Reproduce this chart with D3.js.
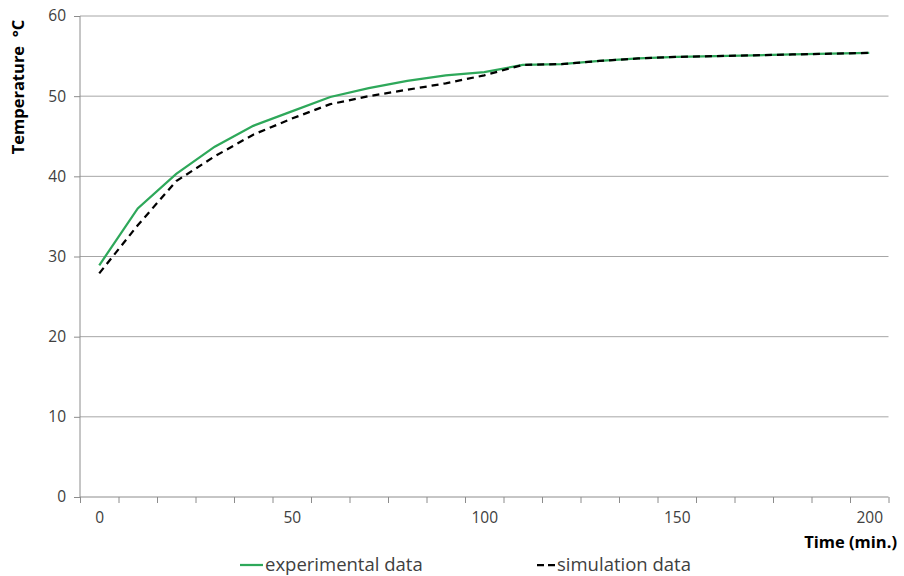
<!DOCTYPE html>
<html>
<head>
<meta charset="utf-8">
<script src="https://cdn.jsdelivr.net/npm/d3@7"></script>
<style>
  body { margin: 0; background: #fff; }
  text { font-family: "Open Sans", "DejaVu Sans", sans-serif; fill: #404040; }
  .axis path, .axis line { stroke: #8c8c8c; }
  .grid line { stroke: #a6a6a6; }
</style>
</head>
<body>
<svg id="chart"></svg>
<script>
// time in minutes (one category every 10 min)
var times = [0, 10, 20, 30, 40, 50, 60, 70, 80, 90, 100,
             110, 120, 130, 140, 150, 160, 170, 180, 190, 200];
var experimental = [28.9, 36.0, 40.3, 43.7, 46.3, 48.1, 49.9, 51.0, 51.9, 52.6, 53.0,
                    53.9, 54.0, 54.4, 54.7, 54.9, 55.0, 55.1, 55.2, 55.3, 55.4];
var simulation = [27.9, 33.9, 39.4, 42.5, 45.2, 47.2, 49.0, 50.0, 50.8, 51.6, 52.6,
                  53.9, 54.0, 54.4, 54.7, 54.9, 55.0, 55.1, 55.2, 55.3, 55.4];
var xLabels = [0, 50, 100, 150, 200];
var yTicks = [0, 10, 20, 30, 40, 50, 60];

var W = 904, H = 576;
var margin = {left: 80, top: 16, right: 15, bottom: 79};
var width = 888.5 - margin.left;
var height = 497 - margin.top;

var svg = d3.select("#chart").attr("width", W).attr("height", H);
var chart = svg.append("g")
    .attr("transform", "translate(" + margin.left + "," + margin.top + ")");

// category axis: each point sits in the middle of a 10-min slot
var x = d3.scaleLinear().domain([-5, 205]).range([0, width]);
var y = d3.scaleLinear().domain([0, 60]).range([height, 0]);

// horizontal gridlines
chart.append("g")
    .attr("class", "grid")
    .selectAll("line")
    .data(yTicks.filter(function (d) { return d > 0; }))
    .enter()
    .append("line")
    .attr("x1", 0)
    .attr("x2", width)
    .attr("y1", function (d) { return y(d); })
    .attr("y2", function (d) { return y(d); });

// y axis
var yAxis = chart.append("g")
    .attr("class", "axis")
    .call(d3.axisLeft(y).tickValues(yTicks).tickSize(6).tickPadding(8));
yAxis.select(".domain").attr("d", "M0," + height + "V0");
yAxis.selectAll("text").style("font-size", "15.5px");

// x axis: boundary ticks between categories
var xTickVals = d3.range(-5, 206, 10);
var xAxis = chart.append("g")
    .attr("class", "axis")
    .attr("transform", "translate(0," + height + ")")
    .call(d3.axisBottom(x).tickValues(xTickVals).tickFormat("").tickSize(6).tickSizeOuter(0));
xAxis.select(".domain").attr("d", "M0,0H" + width);

chart.append("g")
    .attr("class", "axis labels")
    .attr("transform", "translate(0," + height + ")")
    .call(d3.axisBottom(x).tickValues(xLabels).tickSize(0).tickPadding(15))
    .call(function (g) { g.select(".domain").remove(); })
    .selectAll("text").style("font-size", "15.5px");

// lines
var line = d3.line()
    .x(function (d, i) { return x(times[i]); })
    .y(function (d) { return y(d); });

chart.append("path")
    .datum(experimental)
    .attr("fill", "none")
    .attr("stroke", "#2ea85a")
    .attr("stroke-width", 2.25)
    .attr("d", line);

chart.append("path")
    .datum(simulation)
    .attr("fill", "none")
    .attr("stroke", "#000")
    .attr("stroke-width", 2.25)
    .attr("stroke-dasharray", "7,5")
    .attr("d", line);

// axis titles
svg.append("text")
    .attr("transform", "translate(24,87) rotate(-90)")
    .attr("text-anchor", "middle")
    .style("font-size", "16.5px")
    .style("font-weight", "bold")
    .style("fill", "#000")
    .text("Temperature\u00a0\u00a0°C");

svg.append("text")
    .attr("x", 897)
    .attr("y", 548)
    .attr("text-anchor", "end")
    .style("font-size", "16.5px")
    .style("font-weight", "bold")
    .style("fill", "#000")
    .text("Time (min.)");

// legend
var legend = [
    {name: "experimental data", color: "#2ea85a", dash: null, x: 240, len: 23},
    {name: "simulation data", color: "#000", dash: "7,4", x: 537, len: 18}
];
var lg = svg.selectAll(".legend")
    .data(legend)
    .enter()
    .append("g")
    .attr("class", "legend")
    .attr("transform", function (d) { return "translate(" + d.x + ",565)"; });

lg.append("line")
    .attr("x1", 0)
    .attr("x2", function (d) { return d.len; })
    .attr("stroke", function (d) { return d.color; })
    .attr("stroke-width", 2.25)
    .attr("stroke-dasharray", function (d) { return d.dash; });

lg.append("text")
    .attr("x", function (d) { return d.len + 2; })
    .attr("dy", "0.35em")
    .style("font-size", "18.5px")
    .text(function (d) { return d.name; });
</script>
</body>
</html>
